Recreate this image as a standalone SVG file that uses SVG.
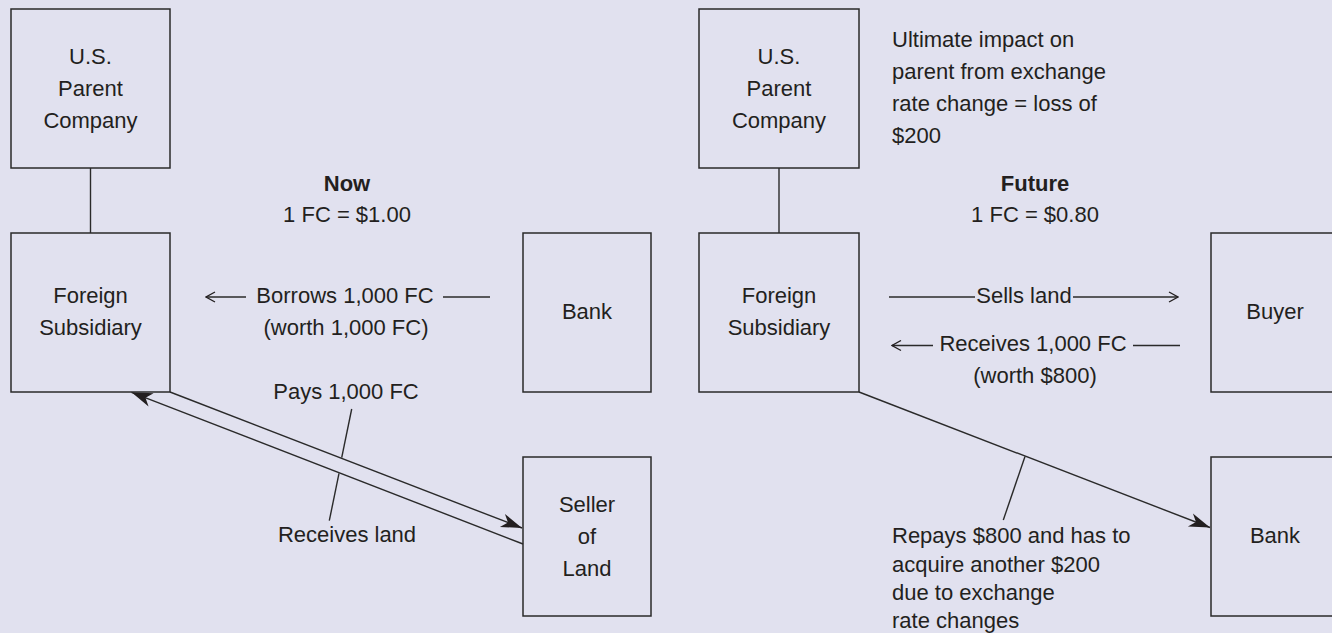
<svg xmlns="http://www.w3.org/2000/svg" width="1332" height="633" viewBox="0 0 1332 633">
<defs>
<style>
.box{fill:none;stroke:#2a2a2a;stroke-width:1.5}
.ln{fill:none;stroke:#2a2a2a;stroke-width:1.4}
.t{font-family:"Liberation Sans",Arial,sans-serif;font-size:22px;fill:#231f20}
.c{text-anchor:middle}
.b{font-weight:bold}
</style>
<marker id="stealth" markerUnits="userSpaceOnUse" markerWidth="24" markerHeight="16" viewBox="-22 -8 24 16" refX="0" refY="0" orient="auto">
<path d="M0,0 L-21,-7 L-15,0 L-21,7 Z" fill="#231f20"/>
</marker>
<marker id="open" markerUnits="userSpaceOnUse" markerWidth="12" markerHeight="12" viewBox="-11 -6 12 12" refX="0" refY="0" orient="auto">
<path d="M-9,-5 L0,0 L-9,5" fill="none" stroke="#231f20" stroke-width="1.3"/>
</marker>
</defs>
<rect width="1332" height="633" fill="#e1e1ef"/>

<g id="connectors">
<line class="ln" x1="90.5" y1="168" x2="90.5" y2="233"/>
<line class="ln" x1="779" y1="168" x2="779" y2="233"/>
<line class="ln" x1="246" y1="297" x2="206" y2="297" marker-end="url(#open)"/>
<line class="ln" x1="443" y1="297" x2="490" y2="297"/>
<line class="ln" x1="889" y1="297" x2="975" y2="297"/>
<line class="ln" x1="1073" y1="297" x2="1178" y2="297" marker-end="url(#open)"/>
<line class="ln" x1="933" y1="345.5" x2="892" y2="345.5" marker-end="url(#open)"/>
<line class="ln" x1="1133" y1="345.5" x2="1180" y2="345.5"/>
<line class="ln" x1="170" y1="392" x2="522" y2="528" marker-end="url(#stealth)"/>
<line class="ln" x1="523" y1="544" x2="131.5" y2="392.3" marker-end="url(#stealth)"/>
<line class="ln" x1="859" y1="392" x2="1210" y2="527.5" marker-end="url(#stealth)"/>
<line class="ln" x1="351.7" y1="409" x2="341.7" y2="457.7"/>
<line class="ln" x1="339" y1="473.3" x2="329.3" y2="520.7"/>
<line class="ln" x1="1025" y1="456.5" x2="1003.3" y2="520"/>
</g>

<g id="parent-left">
<rect class="box" x="11" y="9" width="159" height="159"/>
<text class="t c" x="90.5" y="63.5">U.S.</text>
<text class="t c" x="90.5" y="95.5">Parent</text>
<text class="t c" x="90.5" y="127.5">Company</text>
</g>
<g id="subsidiary-left">
<rect class="box" x="11" y="233" width="159" height="159"/>
<text class="t c" x="90.5" y="302.5">Foreign</text>
<text class="t c" x="90.5" y="334.5">Subsidiary</text>
</g>
<g id="bank-left">
<rect class="box" x="523" y="233" width="128" height="159"/>
<text class="t c" x="587" y="318.5">Bank</text>
</g>
<g id="seller">
<rect class="box" x="523" y="457" width="128" height="159"/>
<text class="t c" x="587" y="511.5">Seller</text>
<text class="t c" x="587" y="543.5">of</text>
<text class="t c" x="587" y="575.5">Land</text>
</g>

<g id="parent-right">
<rect class="box" x="699" y="9" width="160" height="159"/>
<text class="t c" x="779" y="63.5">U.S.</text>
<text class="t c" x="779" y="95.5">Parent</text>
<text class="t c" x="779" y="127.5">Company</text>
</g>
<g id="subsidiary-right">
<rect class="box" x="699" y="233" width="160" height="159"/>
<text class="t c" x="779" y="302.5">Foreign</text>
<text class="t c" x="779" y="334.5">Subsidiary</text>
</g>
<g id="buyer">
<rect class="box" x="1211" y="233" width="128" height="159"/>
<text class="t c" x="1275" y="318.5">Buyer</text>
</g>
<g id="bank-right">
<rect class="box" x="1211" y="457" width="128" height="159"/>
<text class="t c" x="1275" y="542.5">Bank</text>
</g>

<g id="labels">
<text class="t c b" x="347" y="191">Now</text>
<text class="t c" x="347" y="222">1 FC = $1.00</text>
<text class="t c" x="345" y="302.5">Borrows 1,000 FC</text>
<text class="t c" x="346" y="334.5">(worth 1,000 FC)</text>
<text class="t c" x="346" y="399">Pays 1,000 FC</text>
<text class="t c" x="347" y="542">Receives land</text>

<text class="t c b" x="1035" y="191">Future</text>
<text class="t c" x="1035" y="222">1 FC = $0.80</text>
<text class="t" x="892" y="46.5">Ultimate impact on</text>
<text class="t" x="892" y="78.5">parent from exchange</text>
<text class="t" x="892" y="110.5">rate change = loss of</text>
<text class="t" x="892" y="142.5">$200</text>
<text class="t c" x="1024" y="302.5">Sells land</text>
<text class="t c" x="1033" y="350.5">Receives 1,000 FC</text>
<text class="t c" x="1035" y="382.5">(worth $800)</text>
<text class="t" x="892" y="543">Repays $800 and has to</text>
<text class="t" x="892" y="572">acquire another $200</text>
<text class="t" x="892" y="600">due to exchange</text>
<text class="t" x="892" y="628">rate changes</text>
</g>
</svg>
